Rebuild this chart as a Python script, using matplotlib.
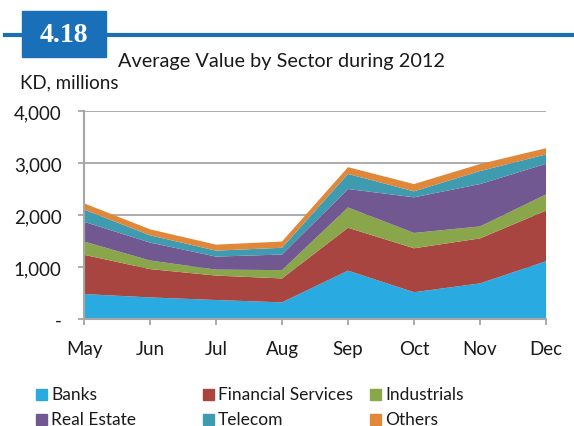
import matplotlib.pyplot as plt
import matplotlib.patches as mpatches
from matplotlib.lines import Line2D
from matplotlib.ticker import FuncFormatter

plt.rcParams['font.family'] = ['Lato', 'DejaVu Sans']

months = ['May', 'Jun', 'Jul', 'Aug', 'Sep', 'Oct', 'Nov', 'Dec']
banks = [480, 415, 365, 320, 930, 515, 685, 1110]
financial = [755, 545, 470, 460, 825, 845, 865, 975]
industrials = [255, 165, 115, 160, 390, 295, 230, 310]
real_estate = [380, 345, 250, 300, 355, 685, 815, 590]
telecom = [235, 140, 115, 130, 290, 115, 250, 180]
others = [120, 115, 115, 120, 130, 140, 135, 120]

labels = ['Banks', 'Financial Services', 'Industrials', 'Real Estate', 'Telecom', 'Others']
colors = ['#29abe2', '#a84541', '#8aa64b', '#725891', '#3e9bb0', '#e0873a']

W, H = 574, 427
fig = plt.figure(figsize=(5.74, 4.27), dpi=100)
ax = fig.add_axes([84 / W, 1 - 320 / H, 462 / W, 208 / H])

x = list(range(len(months)))
ax.stackplot(x, banks, financial, industrials, real_estate, telecom, others,
             colors=colors, zorder=2)

grey = '#a6a6a6'
ax.set_xlim(0, len(months) - 1)
ax.set_ylim(0, 4000)
ax.set_yticks([0, 1000, 2000, 3000, 4000])
ax.yaxis.set_major_formatter(FuncFormatter(lambda v, p: '-' if v == 0 else f'{v:,.0f}'))
ax.set_xticks(x)
ax.set_xticklabels(months)
ax.grid(axis='y', color=grey, linewidth=1.3, zorder=0)
ax.set_axisbelow(True)
for s in ['top', 'right']:
    ax.spines[s].set_visible(False)
for s in ['left', 'bottom']:
    ax.spines[s].set_color(grey)
    ax.spines[s].set_linewidth(1.5)
ax.tick_params(axis='both', color=grey, width=1.3, length=4, labelsize=13.5, labelcolor='#1a1a1a')
ax.tick_params(axis='x', pad=11)
ax.tick_params(axis='y', pad=12)

# header
fig.add_artist(Line2D([5 / W, 1], [1 - 36 / H] * 2, color='#1a70b8', linewidth=3))
fig.add_artist(mpatches.Rectangle((22 / W, 1 - 58 / H), 84 / W, 46 / H,
                                  color='#1a70b8', transform=fig.transFigure))
fig.text(64 / W, 1 - 36 / H, '4.18', color='white', fontsize=20, fontweight='bold',
         family='Liberation Serif', ha='center', va='center')
fig.text(118 / W, 1 - 62 / H, 'Average Value by Sector during 2012', fontsize=14.3,
         color='#1a1a1a', ha='left', va='center')
fig.text(20 / W, 1 - 83 / H, 'KD, millions', fontsize=13.5, color='#1a1a1a',
         ha='left', va='center')

# legend, 3 columns x 2 rows
col_x = [36, 203, 370]
row_y = [395, 420]
for i, (lab, c) in enumerate(zip(labels, colors)):
    cx = col_x[i % 3]
    cy = row_y[i // 3]
    fig.add_artist(mpatches.Rectangle((cx / W, 1 - (cy + 5.5) / H), 11 / W, 11 / H,
                                      color=c, transform=fig.transFigure))
    fig.text((cx + 15) / W, 1 - cy / H, lab, fontsize=12.5, color='#1a1a1a',
             ha='left', va='center')

fig.savefig('out.png', dpi=100)
